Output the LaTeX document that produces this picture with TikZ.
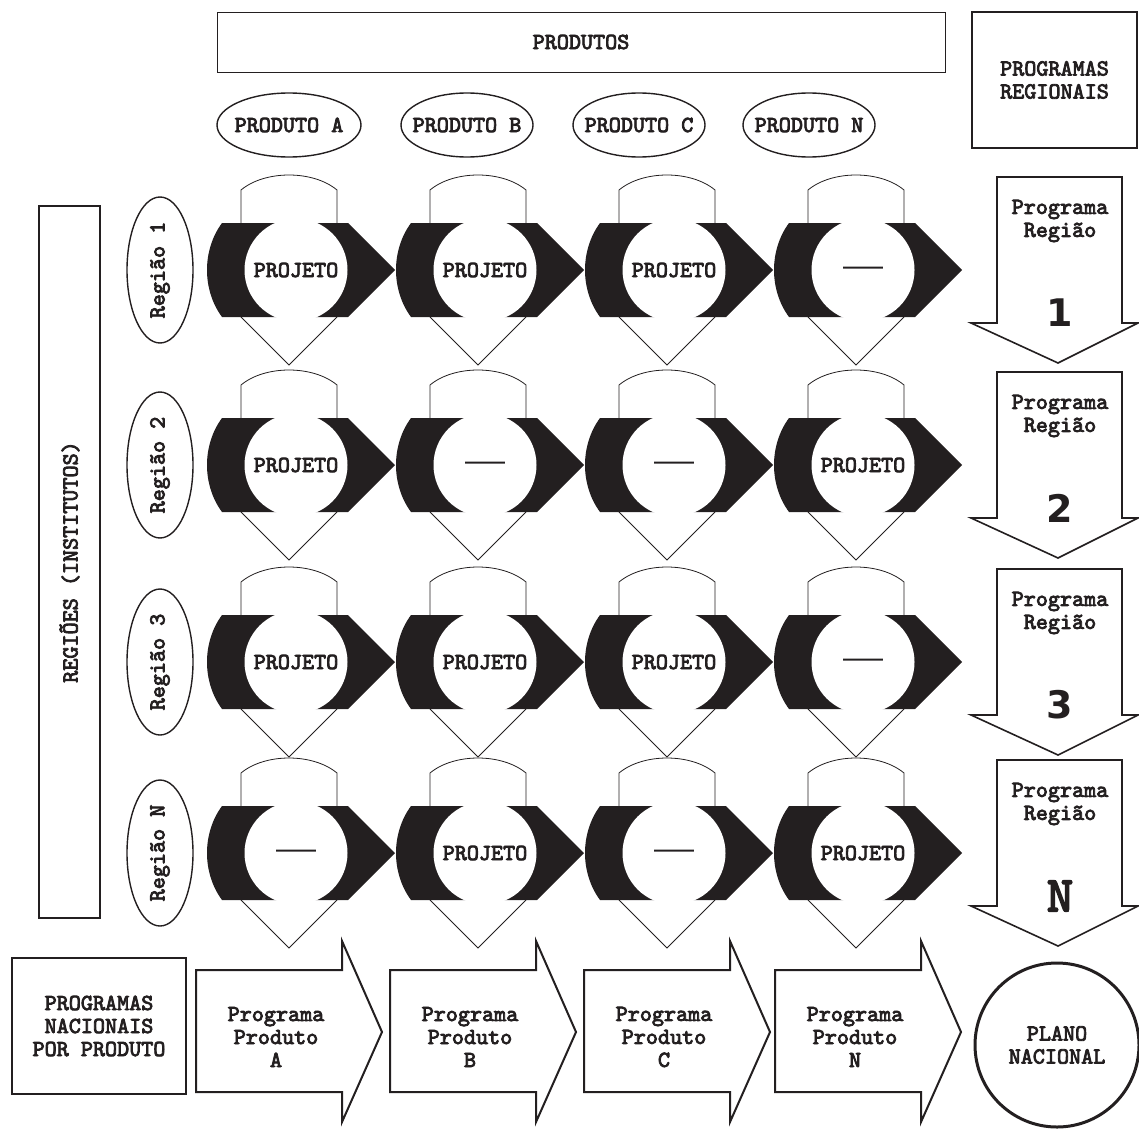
\documentclass[tikz,border=0pt]{standalone}
\usepackage{fontspec}
\setmonofont{lmmono10-regular.otf}[FakeBold=3.5]
\newfontfamily\tracofont{Liberation Sans}
\newfontfamily\digitfont{DejaVu Sans}

\begin{document}
\begin{tikzpicture}[
  x=1pt, y=-1pt,
  font=\ttfamily\fontsize{23}{23}\selectfont,
  txt/.style={align=center, inner sep=0pt, text=ink},
  caixa/.style={draw=ink, line width=1.5pt, txt},
]
\definecolor{ink}{HTML}{231F20}
\useasboundingbox (0,0) rectangle (1139,1132);

% =====================================================================
% Top: products
% =====================================================================
\node[caixa, line width=0.8pt, minimum width=728pt, minimum height=60pt] (produtos) at (581,42) {PRODUTOS};
\node[caixa, line width=1.8pt, minimum width=165pt, minimum height=136pt] (progregionais) at (1054.5,80) {PROGRAMAS\\REGIONAIS};

\foreach \px/\letra/\rx in {289/A/72, 467/B/66, 639/C/66, 809/N/66} {
  \node[txt] (prod\letra) at (\px,125) {PRODUTO \letra};
  \draw[ink, line width=1.4pt] (prod\letra.center) ellipse [x radius=\rx, y radius=32];
}

% =====================================================================
% Left: regions
% =====================================================================
\node[caixa, rotate=90, minimum width=712pt, minimum height=61pt] (regioes) at (69.5,562) {REGIÕES (INSTITUTOS)};

% =====================================================================
% Project cells, one row per region
% =====================================================================
\foreach \yc/\rg/\lista in {270/1/{P,P,P,D}, 465/2/{P,D,D,P}, 662/3/{P,P,P,D}, 853/N/{D,P,D,P}} {
  % region label
  \node[txt, rotate=90] (reg\rg) at (160,\yc) {Região \rg};
  \draw[ink, line width=1.4pt] (reg\rg.center) ellipse [x radius=33, y radius=73];

  \foreach \tipo [count=\col from 0] in \lista {
    \pgfmathsetmacro{\ox}{289+189*\col}
    \pgfmathsetmacro{\cx}{\ox+7}
    % down-pointing outline with curved top
    \draw[ink, line width=0.8pt, fill=white]
      (\ox-48,\yc-80) .. controls (\ox-24,\yc-100) and (\ox+24,\yc-100) .. (\ox+48,\yc-80)
      -- (\ox+48,\yc+47) -- (\ox,\yc+95) -- (\ox-48,\yc+47) -- cycle;
    % black right-pointing band
    \fill[ink]
      (\cx-74,\yc-47) -- (\cx+52,\yc-47) -- (\cx+99,\yc) -- (\cx+52,\yc+47) -- (\cx-74,\yc+47)
      .. controls (\cx-94,\yc+20) and (\cx-94,\yc-20) .. (\cx-74,\yc-47) -- cycle;
    % white hole
    \fill[white] (\cx,\yc) circle (51.5);
    \node[txt] (cel\rg\col) at (\cx,\yc) {\if\tipo P{}PROJETO\else{\tracofont\bfseries\fontsize{20}{20}\selectfont ——}\fi};
  }

  % regional programme arrow
  \pgfmathsetmacro{\tp}{\yc-93}
  \draw[ink, line width=1.6pt, fill=white]
    (997,\tp) -- (1122,\tp) -- (1122,\tp+146) -- (1138,\tp+146) -- (1058,\tp+186)
    -- (971,\tp+146) -- (997,\tp+146) -- cycle;
  \node[txt] (progreg\rg) at (1060,\tp+44) {Programa\\Região};
  \node[txt] (numreg\rg) at (1060,\tp+136)
    {\if\rg N\fontsize{50}{50}\selectfont N\else\digitfont\bfseries\fontsize{38}{38}\selectfont\rg\fi};
}

% =====================================================================
% Bottom: national programmes per product
% =====================================================================
\node[caixa, line width=1.8pt, minimum width=174pt, minimum height=136pt] (prognacionais) at (99,1026) {PROGRAMAS\\NACIONAIS\\POR PRODUTO};

\foreach \lx/\letra in {196/A, 390/B, 584/C, 775/N} {
  \draw[ink, line width=2pt, fill=white]
    (\lx,970) -- (\lx+146,970) -- (\lx+146,941) -- (\lx+186,1032)
    -- (\lx+146,1122) -- (\lx+146,1092) -- (\lx,1092) -- cycle;
  \node[txt] (progprod\letra) at (\lx+80,1037) {Programa\\Produto\\\letra};
}

\node[caixa, circle, line width=3pt, minimum size=164pt] (plano) at (1057,1045) {PLANO\\NACIONAL};

\end{tikzpicture}
\end{document}
